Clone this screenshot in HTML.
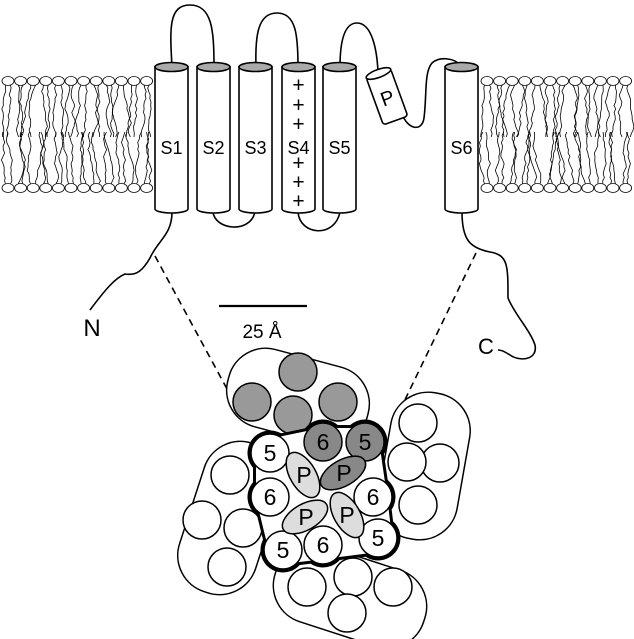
<!DOCTYPE html>
<html><head><meta charset="utf-8"><style>html,body{margin:0;padding:0;background:#fff}svg{display:block}</style></head>
<body>
<svg id="s" width="634" height="639" viewBox="0 0 634 639" xmlns="http://www.w3.org/2000/svg" font-family="Liberation Sans, sans-serif">
<g id="lip" stroke="#000" stroke-width="0.8" fill="none"></g>
<g stroke="#000" stroke-width="1.6" fill="none">
<path d="M172,67 C170,30 168,5 190,5 C212,5 214,30 214,67"/>
<path d="M256,67 C255,35 258,13 277,13 C296,13 298,35 298,67"/>
<path d="M340,67 C340,40 345,23 357,23 C372,23 377,50 378,72"/>
<path d="M402,114 C408,130 422,132 424,118 C427,95 424,72 432,63 C440,56 455,58 461,66"/>
<path d="M213,212 C215,230 250,234 255,212"/>
<path d="M298,212 C300,236 335,238 340,212"/>
<path d="M172,212 C172,235 158,240 150,258 C143,270 137,276 125,274 C115,278 105,290 90,310"/>
<path d="M462,212 C462,240 470,248 490,252 C508,255 508,265 508,298 C515,315 530,330 535,345 C538,360 520,362 510,355 C505,352 502,350 498,350"/>
</g>
<g stroke="#000" stroke-width="1.6" stroke-dasharray="7,5" fill="none">
<path d="M155,256 L233,400"/><path d="M476,253 L400,410"/>
</g>
<line x1="219" y1="306" x2="307" y2="306" stroke="#000" stroke-width="2.2"/>
<text x="262" y="338" font-size="19" text-anchor="middle">25 Å</text>
<text x="92" y="336" font-size="24" text-anchor="middle">N</text>
<text x="486" y="354" font-size="22" text-anchor="middle">C</text>
<g id="cyl" stroke="#000" stroke-width="1.6"></g>
<g transform="translate(387,97) rotate(-20)" stroke="#000" stroke-width="1.6">
<rect x="-13" y="-25" width="26" height="50" rx="3" fill="#fff"/>
<ellipse cx="0" cy="-25" rx="13" ry="4" fill="#fff"/>
<text x="0" y="8" font-size="20" text-anchor="middle" stroke="none">P</text>
</g>
<g stroke="#000" stroke-width="1.5" fill="#fff">
<rect x="-72" y="-40" width="144" height="80" rx="38" transform="translate(298,397) rotate(15)"/>
<rect x="-78" y="-40" width="156" height="80" rx="38" transform="translate(230,518) rotate(-72)"/>
<rect x="-74" y="-40" width="148" height="80" rx="38" transform="translate(424,466) rotate(-80)"/>
<rect x="-78" y="-40" width="156" height="80" rx="38" transform="translate(350,596) rotate(18)"/>
</g>
<g stroke="#000" stroke-width="1.5">
<circle cx="298" cy="372" r="19" fill="#999"/><circle cx="252" cy="402" r="19" fill="#999"/>
<circle cx="293" cy="415" r="19" fill="#999"/><circle cx="338" cy="402" r="19" fill="#999"/>
<g fill="#fff">
<circle cx="230" cy="475" r="19"/><circle cx="202" cy="520" r="19"/><circle cx="243" cy="528" r="19"/><circle cx="227" cy="567" r="19"/>
<circle cx="418" cy="423" r="19"/><circle cx="440" cy="463" r="19"/><circle cx="407" cy="462" r="19"/><circle cx="418" cy="505" r="19"/>
<circle cx="307" cy="587" r="19"/><circle cx="353" cy="577" r="19"/><circle cx="393" cy="587" r="19"/><circle cx="347" cy="613" r="19"/>
</g>
</g>
<g fill="#000">
<circle cx="323" cy="442" r="22.5"/><circle cx="365" cy="442" r="22.5"/><circle cx="270" cy="453" r="22.5"/><circle cx="270" cy="497" r="22.5"/>
<circle cx="373" cy="497" r="22.5"/><circle cx="378" cy="538" r="22.5"/><circle cx="283" cy="550" r="22.5"/><circle cx="323" cy="545" r="22.5"/>
</g>
<polygon points="323,442 365,442 373,497 378,538 323,545 283,550 270,497 270,453" fill="#000" stroke="#000" stroke-width="34" stroke-linejoin="round"/>
<polygon points="323,442 365,442 373,497 378,538 323,545 283,550 270,497 270,453" fill="#fff" stroke="#fff" stroke-width="28" stroke-linejoin="round"/>
<g stroke="#000" stroke-width="1.5">
<circle cx="323" cy="442" r="19" fill="#888"/><circle cx="365" cy="442" r="19" fill="#888"/>
<circle cx="270" cy="453" r="19" fill="#fff"/><circle cx="270" cy="497" r="19" fill="#fff"/>
<circle cx="373" cy="497" r="19" fill="#fff"/><circle cx="378" cy="538" r="19" fill="#fff"/>
<circle cx="283" cy="550" r="19" fill="#fff"/><circle cx="323" cy="545" r="19" fill="#fff"/>
<ellipse cx="303" cy="475" rx="13" ry="25" transform="rotate(-30 303 475)" fill="#ddd"/>
<ellipse cx="343" cy="473" rx="13" ry="25" transform="rotate(60 343 473)" fill="#888"/>
<ellipse cx="305" cy="517" rx="13" ry="25" transform="rotate(60 305 517)" fill="#ddd"/>
<ellipse cx="347" cy="515" rx="13" ry="25" transform="rotate(-30 347 515)" fill="#ddd"/>
</g>
<g font-size="23" text-anchor="middle">
<text x="323" y="450">6</text><text x="365" y="450">5</text><text x="270" y="461">5</text><text x="270" y="505">6</text>
<text x="373" y="505">6</text><text x="378" y="546">5</text><text x="283" y="558">5</text><text x="323" y="553">6</text>
<text x="304" y="483">P</text><text x="344" y="481">P</text><text x="306" y="525">P</text><text x="347" y="523">P</text>
</g>
<script>
var NS="http://www.w3.org/2000/svg",lip=document.getElementById('lip');
var seed=7;function r(){seed=(seed*9301+49297)%233280;return seed/233280;}
function band(x0,x1){
 for(var x=x0;x<=x1;x+=12.6){
  for(var k=-1;k<=1;k+=2){
   var d="M"+(x+k*2.5)+",85";var xx=x+k*2.5;
   for(var y=88;y<=137;y+=3.5){xx+= (r()-0.5)*3.5;d+=" L"+xx.toFixed(1)+","+y;}
   var p=document.createElementNS(NS,"path");p.setAttribute("d",d);lip.appendChild(p);
   d="M"+(x+k*2.5)+",184";xx=x+k*2.5;
   for(var y=181;y>=132;y-=3.5){xx+=(r()-0.5)*3.5;d+=" L"+xx.toFixed(1)+","+y;}
   p=document.createElementNS(NS,"path");p.setAttribute("d",d);lip.appendChild(p);
  }
  [81,188].forEach(function(cy){var e=document.createElementNS(NS,"ellipse");e.setAttribute("cx",x);e.setAttribute("cy",cy);e.setAttribute("rx",6);e.setAttribute("ry",4.5);e.setAttribute("fill","#fff");lip.appendChild(e);});
 }
}
band(8,150);band(487,634);
var cyl=document.getElementById('cyl');
[[155,"S1"],[197,"S2"],[239,"S3"],[282,"S4"],[323,"S5"],[445,"S6"]].forEach(function(c){
 var x=c[0],w=33,cx=x+w/2;
 var p=document.createElementNS(NS,"path");
 p.setAttribute("d","M"+x+",67 L"+x+",209 A"+(w/2)+",4 0 0 0 "+(x+w)+",209 L"+(x+w)+",67 Z");p.setAttribute("fill","#fff");cyl.appendChild(p);
 var e=document.createElementNS(NS,"ellipse");e.setAttribute("cx",cx);e.setAttribute("cy",67);e.setAttribute("rx",w/2);e.setAttribute("ry",4.5);e.setAttribute("fill","#aaa");cyl.appendChild(e);
 var t=document.createElementNS(NS,"text");t.setAttribute("x",cx);t.setAttribute("y",154);t.setAttribute("font-size","18");t.setAttribute("text-anchor","middle");t.setAttribute("stroke","none");t.textContent=c[1];cyl.appendChild(t);
 if(c[1]=="S4"){[85,105,124,163,182,201].forEach(function(y){var t2=document.createElementNS(NS,"text");t2.setAttribute("x",cx);t2.setAttribute("y",y+7);t2.setAttribute("font-size","21");t2.setAttribute("text-anchor","middle");t2.setAttribute("stroke","none");t2.textContent="+";cyl.appendChild(t2);});}
});
</script>
</svg>
</body></html>
